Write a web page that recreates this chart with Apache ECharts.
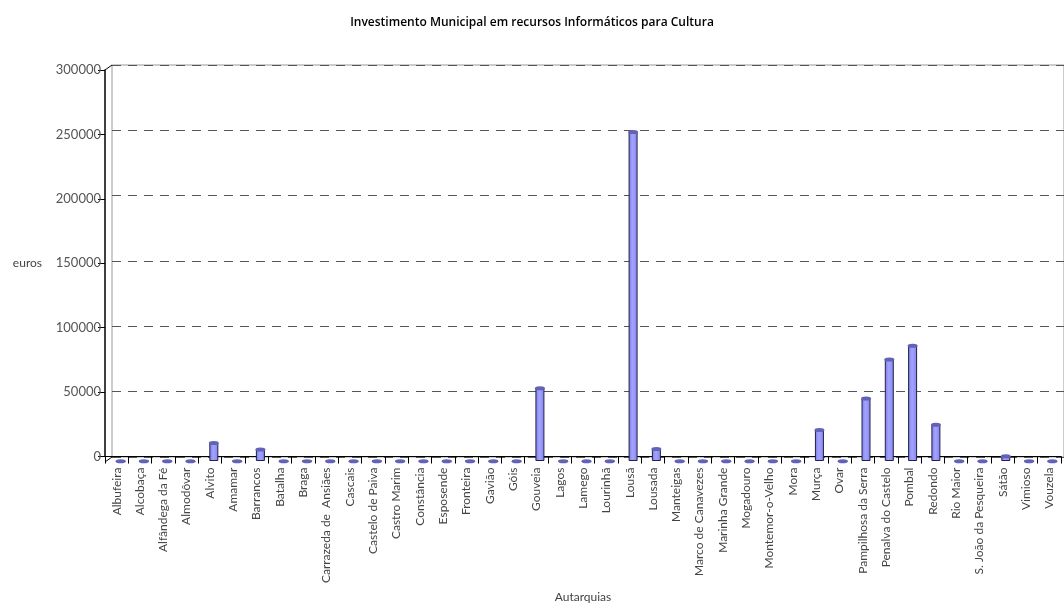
<!DOCTYPE html>
<html>
<head>
<meta charset="utf-8">
<script src="https://cdn.jsdelivr.net/npm/echarts@6/dist/echarts.min.js"></script>
<style>html,body{margin:0;padding:0;background:#fff;}#c{width:1064px;height:608px;}</style>
</head>
<body>
<div id="c"></div>
<script>
const categories = ["Albufeira","Alcobaça","Alfândega da Fé","Almodôvar","Alvito","Amamar","Barrancos","Batalha","Braga","Carrazeda de  Ansiães","Cascais","Castelo de Paiva","Castro Marim","Constância","Esposende","Fronteira","Gavião","Góis","Gouveia","Lagos","Lamego","Lourinhã","Lousã","Lousada","Manteigas","Marco de Canavezes","Marinha Grande","Mogadouro","Montemor-o-Velho","Mora","Murça","Ovar","Pampilhosa da Serra","Penalva do Castelo","Pombal","Redondo","Rio Maior","S. João da Pesqueira","Sátão","Vimioso","Vouzela"];
const values = [0,0,0,0,14000,0,9000,0,0,0,0,0,0,0,0,0,0,0,56000,0,0,0,252000,9500,0,0,0,0,0,0,24000,0,48000,78000,88500,28000,0,0,3800,0,0];
const yMin = 0, yMax = 300000, yStep = 50000;
const titleText = "Investimento Municipal em recursos Informáticos para Cultura";
const yName = "euros", xName = "Autarquias";

const FONT = "Lato";
const chart = echarts.init(document.getElementById('c'));
const hiddenX = {type:'category', data:categories, show:false, boundaryGap:true};
const hiddenY = {type:'value', min:yMin, max:yMax, interval:yStep, show:false};
chart.setOption({
  animation:false,
  title:{text:titleText, left:'center', top:12, textStyle:{fontFamily:'Open Sans', fontSize:12, fontWeight:600, color:'#000'}},
  grid:[
    {left:112, top:65, width:956, height:392, show:true, borderColor:'#999', borderWidth:1},
    {left:105, top:70, width:956, height:392},
    {left:109, top:69, width:956, height:392}
  ],
  xAxis:[
    Object.assign({gridIndex:0}, hiddenX),
    {gridIndex:1, type:'category', data:categories, boundaryGap:true,
     axisLine:{lineStyle:{color:'#000', width:1}},
     axisTick:{show:true, length:7, inside:false, lineStyle:{color:'#000'}},
     axisLabel:{rotate:90, interval:0, fontFamily:FONT, fontSize:12, color:'#444', margin:11},
     name:xName, nameLocation:'middle', nameGap:132, nameTextStyle:{fontFamily:FONT, fontSize:12, color:'#444'}},
    Object.assign({gridIndex:2}, hiddenX)
  ],
  yAxis:[
    {gridIndex:0, type:'value', min:yMin, max:yMax, interval:yStep,
     axisLine:{show:false}, axisTick:{show:false}, axisLabel:{show:false},
     splitLine:{show:true, lineStyle:{color:'#555', type:[9,7], width:1}}},
    {gridIndex:1, type:'value', min:yMin, max:yMax, interval:yStep,
     axisLine:{show:true, lineStyle:{color:'#000', width:1.5}},
     axisTick:{show:true, length:7, lineStyle:{color:'#000'}},
     axisLabel:{fontFamily:FONT, fontSize:13, color:'#555', margin:4, formatter:function(v){return String(v);}},
     splitLine:{show:false},
     name:yName, nameLocation:'middle', nameRotate:0, nameGap:63,
     nameTextStyle:{fontFamily:FONT, fontSize:12, color:'#444'}},
    Object.assign({gridIndex:2}, hiddenY)
  ],
  graphic:[
    {type:'line', shape:{x1:105,y1:70,x2:112,y2:65}, style:{stroke:'#000', lineWidth:1}},
    {type:'line', shape:{x1:105,y1:462,x2:112,y2:457}, style:{stroke:'#000', lineWidth:1}}
  ],
  series:[
    {type:'bar', xAxisIndex:2, yAxisIndex:2, data:values, barWidth:9,
     itemStyle:{color:new echarts.graphic.LinearGradient(0,0,1,0,[
       {offset:0,color:'#7d7de6'},{offset:0.45,color:'#a3a3ff'},{offset:1,color:'#8585ee'}]),
       borderColor:'#222244', borderWidth:1}},
    {type:'pictorialBar', xAxisIndex:2, yAxisIndex:2, data:values, symbol:'circle',
     symbolSize:[10,4], symbolPosition:'end', symbolOffset:[0,'-50%'], z:3,
     itemStyle:{color:'#6262b8', borderColor:'#111', borderWidth:1}}
  ]
});
</script>
</body>
</html>
